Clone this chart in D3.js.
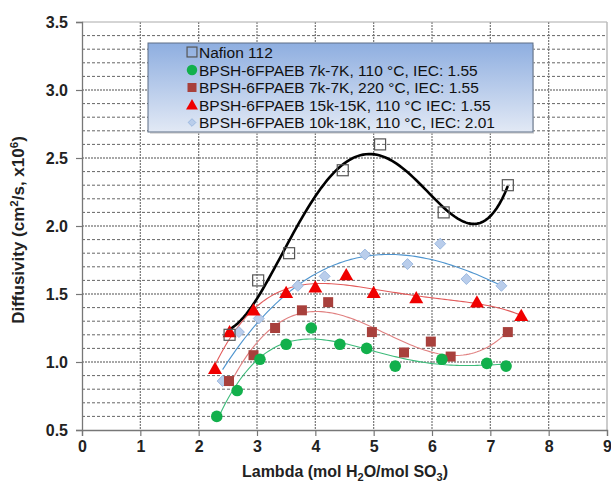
<!DOCTYPE html>
<html lang="en">
<head>
    <meta charset="UTF-8">
    <title>Diffusivity vs Lambda</title>
    <script src="https://d3js.org/d3.v7.min.js"></script>
    <style>
        body { margin: 0; background: #fff; }
        text { font-family: "Liberation Sans", Arial, sans-serif; }
    </style>
</head>
<body>
    <div id="chart"></div>
    <script>
        // values
        const nafionX = [2.53, 3.02, 3.55, 4.47, 5.11, 6.20, 7.30];
        const nafionY = [1.20, 1.60, 1.80, 2.41, 2.60, 2.10, 2.30];

        const green110X = [2.31, 2.66, 3.05, 3.50, 3.93, 4.42, 4.88, 5.37, 6.17, 6.94, 7.27];
        const green110Y = [0.60, 0.79, 1.02, 1.13, 1.25, 1.13, 1.10, 0.97, 1.02, 0.99, 0.97];

        const brown220X = [2.52, 2.94, 3.31, 3.77, 4.22, 4.97, 5.52, 5.98, 6.32, 7.30];
        const brown220Y = [0.86, 1.05, 1.25, 1.38, 1.44, 1.22, 1.07, 1.15, 1.04, 1.22];

        const red15kX = [2.28, 2.53, 2.94, 3.50, 4.00, 4.53, 5.00, 5.73, 6.77, 7.53];
        const red15kY = [0.95, 1.22, 1.38, 1.51, 1.55, 1.64, 1.51, 1.47, 1.44, 1.34];

        const blue18kX = [2.41, 2.69, 3.03, 3.70, 4.16, 4.85, 5.58, 6.14, 6.59, 7.19];
        const blue18kY = [0.86, 1.22, 1.32, 1.56, 1.63, 1.79, 1.72, 1.87, 1.61, 1.56];

        const legendLabels = [
            "Nafion 112",
            "BPSH-6FPAEB 7k-7K, 110 °C, IEC: 1.55",
            "BPSH-6FPAEB 7k-7K, 220 °C, IEC: 1.55",
            "BPSH-6FPAEB 15k-15K, 110 °C IEC: 1.55",
            "BPSH-6FPAEB 10k-18K, 110 °C, IEC: 2.01"
        ];
        const xTicks = [0, 1, 2, 3, 4, 5, 6, 7, 8, 9];
        const yTicks = [0.5, 1.0, 1.5, 2.0, 2.5, 3.0, 3.5];

        const series = [
            { xs: nafionX, ys: nafionY, marker: "openSquare", deg: 4, line: "#000", lw: 2.6 },
            { xs: green110X, ys: green110Y, marker: "circle", deg: 4, line: "#3dbb7a", lw: 1.1 },
            { xs: brown220X, ys: brown220Y, marker: "square", deg: 3, line: "#e08080", lw: 1.1 },
            { xs: red15kX, ys: red15kY, marker: "triangle", deg: 4, line: "#e25b5b", lw: 1.1 },
            { xs: blue18kX, ys: blue18kY, marker: "diamond", deg: 3, line: "#4f95cf", lw: 1.1 }
        ];

        const W = 611, H = 484;
        const plot = { left: 82, right: 607, top: 22, bottom: 430 };

        const x = d3.scaleLinear().domain([0, 9]).range([plot.left, plot.right]);
        const y = d3.scaleLinear().domain([0.5, 3.5]).range([plot.bottom, plot.top]);

        const svg = d3.select("#chart").append("svg")
            .attr("width", W).attr("height", H);

        // gridlines
        const minor = d3.range(6, 35).map(d => d / 10).filter(v => Math.round(v * 10) % 5 !== 0);
        svg.append("g").selectAll("line").data(minor).enter().append("line")
            .attr("x1", plot.left).attr("x2", plot.right)
            .attr("y1", d => y(d)).attr("y2", d => y(d))
            .attr("stroke", "#555").attr("stroke-width", 0.9).attr("stroke-dasharray", "3,2");
        svg.append("g").selectAll("line").data(yTicks.slice(1, -1)).enter().append("line")
            .attr("x1", plot.left).attr("x2", plot.right)
            .attr("y1", d => y(d)).attr("y2", d => y(d))
            .attr("stroke", "#8a8a8a").attr("stroke-width", 1.6).attr("stroke-dasharray", "2,1");
        svg.append("g").selectAll("line").data(xTicks.slice(1, -1)).enter().append("line")
            .attr("x1", d => x(d)).attr("x2", d => x(d))
            .attr("y1", plot.top).attr("y2", plot.bottom)
            .attr("stroke", "#777").attr("stroke-width", 1.2).attr("stroke-dasharray", "2,1");

        // frame top/right
        svg.append("line").attr("x1", plot.left).attr("x2", plot.right)
            .attr("y1", plot.top).attr("y2", plot.top).attr("stroke", "#aaa").attr("stroke-width", 1);
        svg.append("line").attr("x1", plot.right).attr("x2", plot.right)
            .attr("y1", plot.top).attr("y2", plot.bottom).attr("stroke", "#bbb").attr("stroke-width", 1.5);

        // axes
        const xAxis = d3.axisBottom(x).tickValues(xTicks).tickFormat(d3.format("d")).tickSize(6);
        const yAxis = d3.axisLeft(y).tickValues(yTicks).tickFormat(d3.format(".1f")).tickSize(6);

        const gx = svg.append("g").attr("transform", `translate(0,${plot.bottom})`).call(xAxis);
        const gy = svg.append("g").attr("transform", `translate(${plot.left},0)`).call(yAxis);
        [gx, gy].forEach(g => {
            g.select(".domain").attr("stroke", "#777").attr("stroke-width", 1.3);
            g.selectAll(".tick line").attr("stroke", "#777").attr("stroke-width", 1.2);
            g.selectAll(".tick text").attr("font-family", "Liberation Sans, Arial, sans-serif")
                .attr("font-size", 16).attr("font-weight", "bold").attr("fill", "#222");
        });
        gx.selectAll(".tick text").attr("dy", "0.8em");
        gy.selectAll(".tick text").attr("x", -14);

        // axis titles
        const xt = svg.append("text").attr("x", 345).attr("y", 477)
            .attr("text-anchor", "middle").attr("font-size", 16).attr("font-weight", "bold").attr("fill", "#222");
        xt.append("tspan").text("Lambda (mol H");
        xt.append("tspan").attr("font-size", 11).attr("dy", 4).text("2");
        xt.append("tspan").attr("dy", -4).text("O/mol SO");
        xt.append("tspan").attr("font-size", 11).attr("dy", 4).text("3");
        xt.append("tspan").attr("dy", -4).text(")");

        const yt = svg.append("text").attr("transform", "translate(24,230) rotate(-90)")
            .attr("text-anchor", "middle").attr("font-size", 17).attr("font-weight", "bold").attr("fill", "#222");
        yt.append("tspan").text("Diffusivity (cm");
        yt.append("tspan").attr("font-size", 11.5).attr("dy", -6).text("2");
        yt.append("tspan").attr("dy", 6).text("/s, x10");
        yt.append("tspan").attr("font-size", 11.5).attr("dy", -6).text("6");
        yt.append("tspan").attr("dy", 6).text(")");

        // least squares polynomial trendline (like Excel's)
        function polyFit(xs, ys, deg) {
            const n = deg + 1;
            const mx = d3.mean(xs);
            const A = [];
            for (let i = 0; i < n; i++) {
                A.push(new Array(n + 1).fill(0));
            }
            xs.forEach((xv, k) => {
                const t = xv - mx;
                for (let i = 0; i < n; i++) {
                    for (let j = 0; j < n; j++) A[i][j] += Math.pow(t, i + j);
                    A[i][n] += ys[k] * Math.pow(t, i);
                }
            });
            for (let c = 0; c < n; c++) {
                let p = c;
                for (let r = c + 1; r < n; r++) if (Math.abs(A[r][c]) > Math.abs(A[p][c])) p = r;
                [A[c], A[p]] = [A[p], A[c]];
                for (let r = 0; r < n; r++) {
                    if (r === c) continue;
                    const f = A[r][c] / A[c][c];
                    for (let k = c; k <= n; k++) A[r][k] -= f * A[c][k];
                }
            }
            const coef = A.map((row, i) => row[n] / row[i]);
            return xv => coef.reduce((s, c, i) => s + c * Math.pow(xv - mx, i), 0);
        }

        const line = d3.line().x(d => x(d[0])).y(d => y(d[1]));

        series.forEach(s => {
            const f = polyFit(s.xs, s.ys, s.deg);
            const x0 = d3.min(s.xs), x1 = d3.max(s.xs);
            const pts = d3.range(0, 101).map(i => {
                const xv = x0 + (x1 - x0) * i / 100;
                return [xv, f(xv)];
            });
            svg.append("path").datum(pts).attr("d", line)
                .attr("fill", "none").attr("stroke", s.line).attr("stroke-width", s.lw);
        });

        function drawMarker(g, type, cx, cy, scale) {
            const k = scale || 1;
            if (type === "openSquare") {
                g.append("rect").attr("x", cx - 5.5 * k).attr("y", cy - 5.5 * k)
                    .attr("width", 11 * k).attr("height", 11 * k)
                    .attr("fill", "none").attr("stroke", "#555").attr("stroke-width", 1.2);
            } else if (type === "circle") {
                g.append("circle").attr("cx", cx).attr("cy", cy).attr("r", 5.8 * k)
                    .attr("fill", "#12b04c");
            } else if (type === "square") {
                g.append("rect").attr("x", cx - 5 * k).attr("y", cy - 5 * k)
                    .attr("width", 10 * k).attr("height", 10 * k).attr("fill", "#a8403c");
            } else if (type === "triangle") {
                const r = 7 * k;
                g.append("path")
                    .attr("d", `M${cx},${cy - r} L${cx + r},${cy + r * 0.75} L${cx - r},${cy + r * 0.75} Z`)
                    .attr("fill", "#f00000");
            } else if (type === "diamond") {
                const r = 5.5 * k;
                g.append("path")
                    .attr("d", `M${cx},${cy - r} L${cx + r},${cy} L${cx},${cy + r} L${cx - r},${cy} Z`)
                    .attr("fill", "#b9cdeb").attr("stroke", "#8fb0dc").attr("stroke-width", 0.8);
            }
        }

        const marks = svg.append("g");
        [4, 3, 2, 1, 0].forEach(i => {
            const s = series[i];
            s.xs.forEach((xv, k) => drawMarker(marks, s.marker, x(xv), y(s.ys[k])));
        });

        // legend
        const defs = svg.append("defs");
        const grad = defs.append("linearGradient").attr("id", "lg")
            .attr("x1", 0).attr("y1", 0).attr("x2", 0).attr("y2", 1);
        grad.append("stop").attr("offset", "0%").attr("stop-color", "#8eaee0");
        grad.append("stop").attr("offset", "100%").attr("stop-color", "#e2e9f5");

        const lg = svg.append("g");
        lg.append("rect").attr("x", 150).attr("y", 45).attr("width", 384).attr("height", 89)
            .attr("fill", "#c8c8c8").attr("opacity", 0.6);
        lg.append("rect").attr("x", 148).attr("y", 43).attr("width", 385).attr("height", 89)
            .attr("fill", "url(#lg)").attr("stroke", "#5f6f85").attr("stroke-width", 1);

        const legendY = [52, 70, 87.5, 105, 122.5];
        legendLabels.forEach((lab, i) => {
            drawMarker(lg, series[i].marker, 192, legendY[i], i === 3 ? 0.85 : (i === 4 ? 0.7 : 0.9));
            lg.append("text").attr("x", 199).attr("y", legendY[i]).attr("dy", "0.36em")
                .attr("font-size", 15.5).attr("fill", "#111").text(lab);
        });
    </script>
</body>
</html>
